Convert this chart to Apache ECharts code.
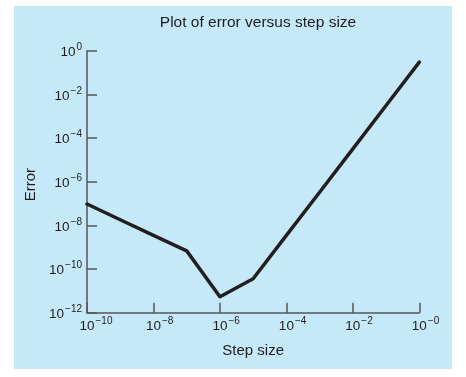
<!DOCTYPE html>
<html><head><meta charset="utf-8">
<script src="https://cdn.jsdelivr.net/npm/echarts@6/dist/echarts.min.js"></script>
<style>html,body{margin:0;padding:0;background:#fff}#c{width:466px;height:377px}</style>
</head><body><div id="c"></div>
<script>
// Data
const stepSizes = [1e-10, 1e-9, 1e-8, 1e-7, 1e-6, 1e-5, 1e-4, 1e-3, 1e-2, 1e-1, 1];
const errors    = [9.5e-8, 1.8e-8, 3.5e-9, 6.8e-10, 5.4e-12, 3.6e-11, 3.5e-9, 3.3e-7, 3.2e-5, 3.1e-3, 0.3];
const xTickExps = {'-10':'\u221210','-8':'\u22128','-6':'\u22126','-4':'\u22124','-2':'\u22122','0':'\u22120'};
const yTickExps = {'-12':'\u221212','-10':'\u221210','-8':'\u22128','-6':'\u22126','-4':'\u22124','-2':'\u22122','0':'0'};
const titleText = 'Plot of error versus step size';
const xName = 'Step size';
const yName = 'Error';

const FONT = 'Liberation Sans, Arial, sans-serif';
const TXT = '#1e1c1d';
const rich = {
  b: {fontSize: 13.5, fontFamily: FONT, color: TXT, lineHeight: 17, verticalAlign: 'bottom'},
  s: {fontSize: 10, fontFamily: FONT, color: TXT, lineHeight: 17, verticalAlign: 'top', padding: [0,0,0,1]},
  h: {fontSize: 10, fontFamily: FONT, color: 'rgba(0,0,0,0)', lineHeight: 17, verticalAlign: 'top', padding: [0,1,0,0]}
};
function fmt(map, centerBase){
  return function(v){
    const e = Math.round(Math.log10(v));
    const s = map[String(e)];
    if (s === undefined) return '';
    return (centerBase ? '{h|' + s + '}' : '') + '{b|10}{s|' + s + '}';
  };
}
const axisCol = '#555';
const chart = echarts.init(document.getElementById('c'), null, {renderer: 'canvas'});
chart.setOption({
  animation: false,
  graphic: [{type: 'rect', shape: {x: 14, y: 6, width: 438, height: 363}, style: {fill: '#c6e9f9'}, z: -10, silent: true}],
  title: {text: titleText, left: 253, top: 10, textAlign: 'center',
    textStyle: {fontSize: 15.5, fontWeight: 'normal', fontFamily: FONT, color: TXT}},
  grid: {left: 87, right: 46.7, top: 50.7, bottom: 64.3, containLabel: false},
  xAxis: {
    type: 'log', logBase: 10, min: 1e-10, max: 1, interval: 2,
    name: xName, nameLocation: 'middle', nameGap: 31,
    nameTextStyle: {fontSize: 15, fontFamily: FONT, color: TXT},
    axisLine: {show: true, lineStyle: {color: axisCol, width: 1.5}},
    axisTick: {show: true, inside: true, length: 10, lineStyle: {color: axisCol, width: 1.5}},
    axisLabel: {formatter: fmt(xTickExps, true), rich: rich, margin: 4, showMinLabel: true, showMaxLabel: true},
    splitLine: {show: false}, minorTick: {show: false}
  },
  yAxis: {
    type: 'log', logBase: 10, min: 1e-12, max: 1, interval: 2,
    name: yName, nameLocation: 'middle', nameGap: 48, nameRotate: 90,
    nameTextStyle: {fontSize: 15, fontFamily: FONT, color: TXT, padding: [0, 6, 0, 0]},
    axisLine: {show: true, lineStyle: {color: axisCol, width: 1.5}},
    axisTick: {show: true, inside: true, length: 10, lineStyle: {color: axisCol, width: 1.5}},
    axisLabel: {formatter: fmt(yTickExps, false), rich: rich, margin: 5, showMinLabel: true, showMaxLabel: true},
    splitLine: {show: false}, minorTick: {show: false}
  },
  series: [{
    type: 'line', data: stepSizes.map((x, i) => [x, errors[i]]),
    showSymbol: false, symbol: 'none',
    lineStyle: {color: '#231f20', width: 3.5, cap: 'round', join: 'round'}
  }]
});
</script></body></html>
